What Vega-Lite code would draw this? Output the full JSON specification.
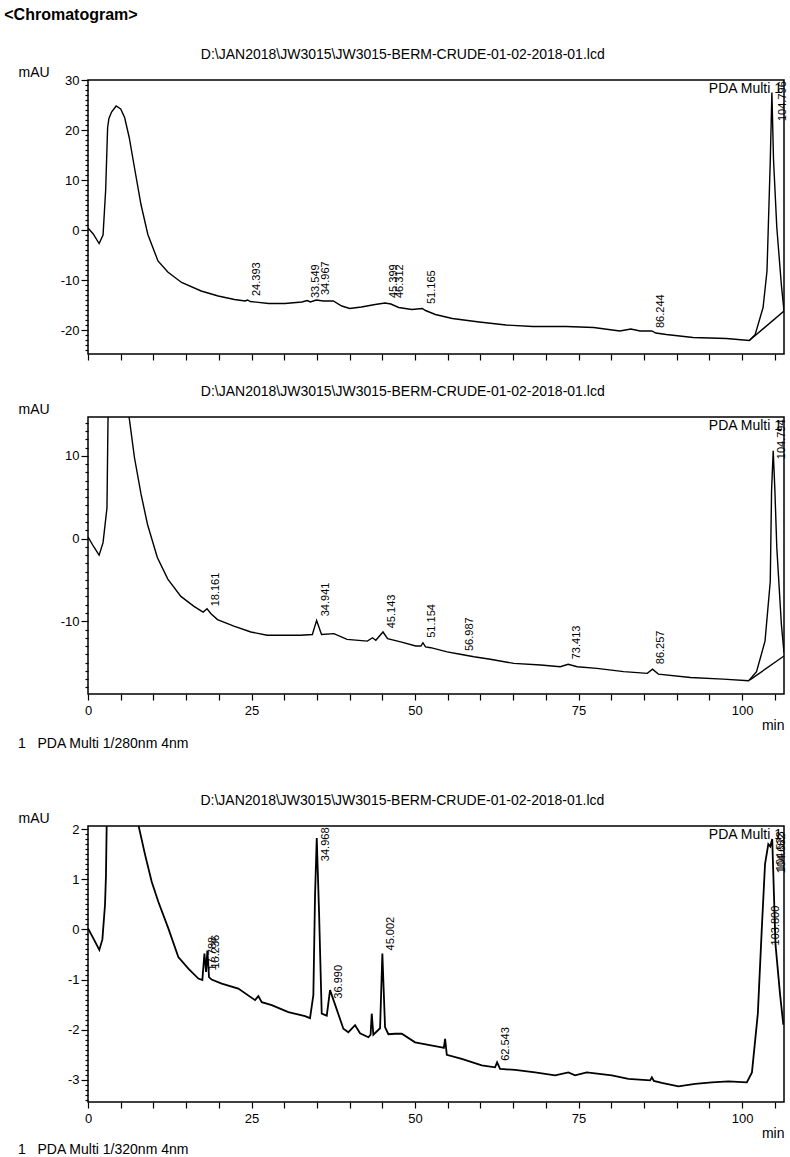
{
  "$schema": "https://vega.github.io/schema/vega-lite/v6.json",
  "padding": {"left": 4, "top": 7, "right": 5, "bottom": 0},
  "background": "white",
  "title": {"text": "<Chromatogram>", "anchor": "start", "dx": -13, "fontSize": 16, "fontWeight": "bold", "baseline": "alphabetic", "offset": 11, "color": "black", "font": "Liberation Sans"},
  "config": {
    "font": "Liberation Sans",
    "view": {"stroke": "black", "strokeWidth": 1.5},
    "axis": {"labelColor": "black", "tickColor": "black", "titleColor": "black", "labelFont": "Liberation Sans", "titleFont": "Liberation Sans", "grid": false, "domain": false, "labelFontSize": 13, "titleFontSize": 14, "titleFontWeight": "normal", "tickWidth": 1.2, "labelOverlap": false, "labelFlush": false, "tickCount": 1000},
    "title": {"color": "black", "font": "Liberation Sans", "fontWeight": "normal", "fontSize": 14, "baseline": "alphabetic", "offset": 3, "anchor": "middle", "frame": "bounds"},
    "text": {"color": "black", "font": "Liberation Sans"}
  },
  "datasets": {
    "p1": [
      {"s":"trace","t":0,"v":0.4},{"s":"trace","t":0.8,"v":-0.8},{"s":"trace","t":1.7,"v":-2.7},{"s":"trace","t":2.3,"v":-1.0},{"s":"trace","t":2.7,"v":8},{"s":"trace","t":3.0,"v":20.5},{"s":"trace","t":3.2,"v":22.3},{"s":"trace","t":3.6,"v":23.6},{"s":"trace","t":4.3,"v":24.8},{"s":"trace","t":5.0,"v":24.2},{"s":"trace","t":5.6,"v":22.5},{"s":"trace","t":6.3,"v":18.5},{"s":"trace","t":7.1,"v":12.5},{"s":"trace","t":8.1,"v":5.1},{"s":"trace","t":9.15,"v":-0.9},{"s":"trace","t":10.7,"v":-6.2},{"s":"trace","t":12.2,"v":-8.4},{"s":"trace","t":14.3,"v":-10.5},{"s":"trace","t":17.3,"v":-12.2},{"s":"trace","t":19.9,"v":-13.2},{"s":"trace","t":22.4,"v":-13.9},{"s":"trace","t":24.0,"v":-14.2},{"s":"trace","t":24.4,"v":-14.0},{"s":"trace","t":24.8,"v":-14.3},{"s":"trace","t":27.6,"v":-14.7},{"s":"trace","t":30.1,"v":-14.7},{"s":"trace","t":32.7,"v":-14.4},{"s":"trace","t":33.5,"v":-14.1},{"s":"trace","t":34.0,"v":-14.4},{"s":"trace","t":34.9,"v":-14.0},{"s":"trace","t":36.0,"v":-14.2},{"s":"trace","t":37.5,"v":-14.2},{"s":"trace","t":38.8,"v":-15.2},{"s":"trace","t":40.0,"v":-15.7},{"s":"trace","t":41.8,"v":-15.4},{"s":"trace","t":43.9,"v":-14.9},{"s":"trace","t":45.4,"v":-14.6},{"s":"trace","t":46.3,"v":-14.8},{"s":"trace","t":47.5,"v":-15.5},{"s":"trace","t":49.5,"v":-15.9},{"s":"trace","t":51.1,"v":-15.7},{"s":"trace","t":51.6,"v":-16.1},{"s":"trace","t":53.1,"v":-16.9},{"s":"trace","t":55.7,"v":-17.7},{"s":"trace","t":59.8,"v":-18.4},{"s":"trace","t":63.9,"v":-19.0},{"s":"trace","t":68.0,"v":-19.3},{"s":"trace","t":73.1,"v":-19.3},{"s":"trace","t":77.3,"v":-19.5},{"s":"trace","t":81.3,"v":-20.2},{"s":"trace","t":83.0,"v":-19.8},{"s":"trace","t":84.4,"v":-20.2},{"s":"trace","t":86.2,"v":-20.2},{"s":"trace","t":86.8,"v":-20.6},{"s":"trace","t":88.4,"v":-20.9},{"s":"trace","t":92.5,"v":-21.5},{"s":"trace","t":97.6,"v":-21.7},{"s":"trace","t":101.1,"v":-22.1},{"s":"trace","t":102.0,"v":-20.9},{"s":"trace","t":103.2,"v":-15.5},{"s":"trace","t":103.8,"v":-8.2},{"s":"trace","t":104.3,"v":13.8},{"s":"trace","t":104.55,"v":27.5},{"s":"trace","t":104.8,"v":14},{"s":"trace","t":105.3,"v":0.5},{"s":"trace","t":106.0,"v":-11},{"s":"trace","t":106.4,"v":-16.2},
      {"s":"base","t":101.1,"v":-22.1},{"s":"base","t":106.4,"v":-16.2}
    ],
    "l1": [
      {"t":24.393,"ly":-13.2,"label":"24.393"},{"t":33.549,"ly":-13.6,"label":"33.549"},{"t":34.967,"ly":-13.0,"label":"34.967"},{"t":45.399,"ly":-13.6,"label":"45.399"},{"t":46.312,"ly":-13.6,"label":"46.312"},{"t":51.165,"ly":-14.8,"label":"51.165"},{"t":86.244,"ly":-19.6,"label":"86.244"},{"t":104.796,"ly":21.8,"label":"104.796"}
    ],
    "p2": [
      {"s":"trace","t":0,"v":0.2},{"s":"trace","t":0.8,"v":-0.9},{"s":"trace","t":1.7,"v":-2.0},{"s":"trace","t":2.3,"v":-0.5},{"s":"trace","t":2.9,"v":3.7},{"s":"trace","t":3.05,"v":14},{"s":"trace","t":3.3,"v":22},{"s":"trace","t":4.3,"v":28},{"s":"trace","t":5.3,"v":24},{"s":"trace","t":6.3,"v":14.6},{"s":"trace","t":7.1,"v":9.8},{"s":"trace","t":8.1,"v":5.4},{"s":"trace","t":9.1,"v":1.7},{"s":"trace","t":10.6,"v":-2.3},{"s":"trace","t":12.2,"v":-4.9},{"s":"trace","t":14.2,"v":-7.0},{"s":"trace","t":16.2,"v":-8.2},{"s":"trace","t":17.6,"v":-8.9},{"s":"trace","t":18.2,"v":-8.5},{"s":"trace","t":18.8,"v":-9.1},{"s":"trace","t":19.8,"v":-9.8},{"s":"trace","t":22.3,"v":-10.6},{"s":"trace","t":24.9,"v":-11.3},{"s":"trace","t":27.4,"v":-11.7},{"s":"trace","t":30.0,"v":-11.7},{"s":"trace","t":32.5,"v":-11.7},{"s":"trace","t":34.3,"v":-11.6},{"s":"trace","t":34.95,"v":-9.9},{"s":"trace","t":35.7,"v":-11.6},{"s":"trace","t":37.6,"v":-11.5},{"s":"trace","t":39.6,"v":-12.2},{"s":"trace","t":42.7,"v":-12.4},{"s":"trace","t":43.5,"v":-12.0},{"s":"trace","t":44.0,"v":-12.3},{"s":"trace","t":45.1,"v":-11.3},{"s":"trace","t":45.8,"v":-12.1},{"s":"trace","t":47.8,"v":-12.5},{"s":"trace","t":50.1,"v":-13.0},{"s":"trace","t":50.9,"v":-13.0},{"s":"trace","t":51.2,"v":-12.6},{"s":"trace","t":51.6,"v":-13.1},{"s":"trace","t":52.4,"v":-13.2},{"s":"trace","t":54.9,"v":-13.7},{"s":"trace","t":56.9,"v":-14.0},{"s":"trace","t":59.0,"v":-14.3},{"s":"trace","t":61.5,"v":-14.6},{"s":"trace","t":65.1,"v":-15.1},{"s":"trace","t":69.2,"v":-15.3},{"s":"trace","t":72.2,"v":-15.5},{"s":"trace","t":73.4,"v":-15.2},{"s":"trace","t":74.8,"v":-15.5},{"s":"trace","t":77.8,"v":-15.7},{"s":"trace","t":81.9,"v":-16.1},{"s":"trace","t":85.5,"v":-16.3},{"s":"trace","t":86.3,"v":-15.8},{"s":"trace","t":87.2,"v":-16.4},{"s":"trace","t":92.1,"v":-16.8},{"s":"trace","t":97.1,"v":-17.0},{"s":"trace","t":101.0,"v":-17.2},{"s":"trace","t":102.2,"v":-16.1},{"s":"trace","t":103.5,"v":-12.4},{"s":"trace","t":104.3,"v":-5.2},{"s":"trace","t":104.5,"v":5.8},{"s":"trace","t":104.75,"v":10.6},{"s":"trace","t":105.0,"v":6},{"s":"trace","t":105.3,"v":-1.1},{"s":"trace","t":106.0,"v":-10.4},{"s":"trace","t":106.4,"v":-13.8},
      {"s":"base","t":101.2,"v":-17.1},{"s":"base","t":106.4,"v":-14.2}
    ],
    "l2": [
      {"t":18.161,"ly":-8.2,"label":"18.161"},{"t":34.941,"ly":-9.4,"label":"34.941"},{"t":45.143,"ly":-10.85,"label":"45.143"},{"t":51.154,"ly":-12.0,"label":"51.154"},{"t":56.987,"ly":-13.6,"label":"56.987"},{"t":73.413,"ly":-14.6,"label":"73.413"},{"t":86.257,"ly":-15.2,"label":"86.257"},{"t":104.794,"ly":9.6,"label":"104.794"}
    ],
    "p3": [
      {"t":0,"v":0.02},{"t":0.9,"v":-0.2},{"t":1.73,"v":-0.41},{"t":2.2,"v":-0.2},{"t":2.6,"v":0.49},{"t":2.75,"v":1.09},{"t":2.9,"v":2.5},{"t":3.5,"v":6},{"t":4.5,"v":9},{"t":6.0,"v":6},{"t":7.0,"v":3.2},{"t":7.69,"v":2.09},{"t":8.72,"v":1.49},{"t":9.74,"v":0.95},{"t":10.75,"v":0.55},{"t":12.28,"v":0.02},{"t":13.81,"v":-0.55},{"t":15.34,"v":-0.78},{"t":16.87,"v":-0.98},{"t":17.48,"v":-1.01},{"t":17.8,"v":-0.48},{"t":18.05,"v":-0.85},{"t":18.25,"v":-0.42},{"t":18.5,"v":-0.95},{"t":18.9,"v":-1.0},{"t":20.44,"v":-1.08},{"t":22.98,"v":-1.18},{"t":25.54,"v":-1.41},{"t":26.04,"v":-1.33},{"t":26.56,"v":-1.45},{"t":28.09,"v":-1.51},{"t":30.63,"v":-1.65},{"t":33.18,"v":-1.73},{"t":33.94,"v":-1.77},{"t":34.45,"v":-1.31},{"t":34.71,"v":0.69},{"t":34.97,"v":1.82},{"t":35.32,"v":0.35},{"t":35.73,"v":-1.68},{"t":36.5,"v":-1.72},{"t":37.0,"v":-1.21},{"t":37.8,"v":-1.51},{"t":39.04,"v":-1.98},{"t":39.8,"v":-2.05},{"t":40.83,"v":-1.91},{"t":41.59,"v":-2.07},{"t":42.86,"v":-2.15},{"t":43.2,"v":-2.1},{"t":43.38,"v":-1.68},{"t":43.62,"v":-2.1},{"t":44.65,"v":-1.97},{"t":45.0,"v":-0.48},{"t":45.41,"v":-1.95},{"t":45.92,"v":-2.09},{"t":46.94,"v":-2.08},{"t":47.97,"v":-2.08},{"t":50.0,"v":-2.25},{"t":52.03,"v":-2.3},{"t":54.08,"v":-2.35},{"t":54.4,"v":-2.36},{"t":54.59,"v":-2.18},{"t":54.85,"v":-2.5},{"t":57.14,"v":-2.58},{"t":60.2,"v":-2.71},{"t":62.23,"v":-2.75},{"t":62.54,"v":-2.65},{"t":63.0,"v":-2.78},{"t":65.29,"v":-2.8},{"t":68.35,"v":-2.85},{"t":71.41,"v":-2.91},{"t":73.44,"v":-2.85},{"t":74.46,"v":-2.91},{"t":76.25,"v":-2.85},{"t":80.08,"v":-2.91},{"t":82.61,"v":-2.98},{"t":85.93,"v":-3.01},{"t":86.2,"v":-2.95},{"t":86.5,"v":-3.02},{"t":87.72,"v":-3.06},{"t":90.26,"v":-3.13},{"t":92.81,"v":-3.08},{"t":95.37,"v":-3.05},{"t":97.9,"v":-3.03},{"t":100.72,"v":-3.05},{"t":101.5,"v":-2.85},{"t":102.4,"v":-1.68},{"t":103.0,"v":0.0},{"t":103.5,"v":1.3},{"t":104.0,"v":1.7},{"t":104.3,"v":1.65},{"t":104.6,"v":1.8},{"t":105.1,"v":-0.3},{"t":105.8,"v":-1.3},{"t":106.3,"v":-1.9}
    ],
    "l3": [
      {"t":17.788,"ly":-0.82,"label":"17.788"},{"t":18.236,"ly":-0.78,"label":"18.236"},{"t":34.968,"ly":1.36,"label":"34.968"},{"t":36.99,"ly":-1.38,"label":"36.990"},{"t":45.002,"ly":-0.42,"label":"45.002"},{"t":62.543,"ly":-2.62,"label":"62.543"},{"t":103.8,"ly":-0.32,"label":"103.800"},{"t":104.523,"ly":1.16,"label":"104.523"},{"t":104.682,"ly":1.12,"label":"104.682"}
    ]
  },
  "spacing": 41,
  "vconcat": [
    {
      "spacing": 22,
      "vconcat": [
        {
          "width": 696, "height": 274,
          "title": {"text": "D:\\JAN2018\\JW3015\\JW3015-BERM-CRUDE-01-02-2018-01.lcd"},
          "layer": [
            {
              "data": {"name": "p1"},
              "mark": {"type": "line", "color": "black", "strokeWidth": 1.4, "clip": true},
              "encoding": {
                "x": {"field": "t", "type": "quantitative", "scale": {"domain": [0, 106.4], "nice": false},
                  "axis": {"values": [0,5,10,15,20,25,30,35,40,45,50,55,60,65,70,75,80,85,90,95,100,105], "labels": false, "tickSize": 6, "tickCount": 1000, "title": null}},
                "y": {"field": "v", "type": "quantitative", "scale": {"domain": [-24.8, 30], "nice": false, "zero": false},
                  "axis": {"values": [-24,-23,-22,-21,-20,-19,-18,-17,-16,-15,-14,-13,-12,-11,-10,-9,-8,-7,-6,-5,-4,-3,-2,-1,0,1,2,3,4,5,6,7,8,9,10,11,12,13,14,15,16,17,18,19,20,21,22,23,24,25,26,27,28,29,30],
                    "tickCount": 1000, "labelOverlap": false,
                    "labelExpr": "datum.value % 10 === 0 ? '' + datum.value : ''",
                    "tickSize": {"condition": {"test": "datum.value % 10 === 0", "value": 7}, "value": 3},
                    "labelPadding": 2,
                    "title": "mAU", "titleAngle": 0, "titleAlign": "left", "titleBaseline": "alphabetic", "titleX": -70, "titleY": -4}},
                "detail": {"field": "s"}
              }
            },
            {
              "data": {"name": "l1"},
              "mark": {"type": "text", "angle": 270, "align": "left", "baseline": "top", "dy": 3, "fontSize": 11},
              "encoding": {
                "x": {"field": "t", "type": "quantitative"},
                "y": {"field": "ly", "type": "quantitative"},
                "text": {"field": "label"}
              }
            },
            {
              "data": {"values": [{}]},
              "mark": {"type": "text", "align": "right", "baseline": "top", "dx": -2, "dy": 2, "fontSize": 14},
              "encoding": {"x": {"datum": 106.4}, "y": {"datum": 30}, "text": {"value": "PDA Multi 1"}}
            }
          ]
        },
        {
          "width": 696, "height": 277,
          "title": {"text": "D:\\JAN2018\\JW3015\\JW3015-BERM-CRUDE-01-02-2018-01.lcd"},
          "layer": [
            {
              "data": {"name": "p2"},
              "mark": {"type": "line", "color": "black", "strokeWidth": 1.4, "clip": true},
              "encoding": {
                "x": {"field": "t", "type": "quantitative", "scale": {"domain": [0, 106.4], "nice": false},
                  "axis": {"values": [0,5,10,15,20,25,30,35,40,45,50,55,60,65,70,75,80,85,90,95,100,105],
                    "tickCount": 1000, "labelOverlap": false,
                    "labelExpr": "datum.value % 25 === 0 ? '' + datum.value : ''", "labelPadding": 4, "tickSize": 6,
                    "title": "min", "titleX": 696, "titleY": 35, "titleAlign": "right", "titleBaseline": "alphabetic"}},
                "y": {"field": "v", "type": "quantitative", "scale": {"domain": [-18.8, 14.7], "nice": false, "zero": false},
                  "axis": {"values": [-18,-17,-16,-15,-14,-13,-12,-11,-10,-9,-8,-7,-6,-5,-4,-3,-2,-1,0,1,2,3,4,5,6,7,8,9,10,11,12,13,14],
                    "tickCount": 1000, "labelOverlap": false,
                    "labelExpr": "datum.value % 10 === 0 ? '' + datum.value : ''",
                    "tickSize": {"condition": {"test": "datum.value % 10 === 0", "value": 7}, "value": 3},
                    "labelPadding": 2,
                    "title": "mAU", "titleAngle": 0, "titleAlign": "left", "titleBaseline": "alphabetic", "titleX": -70, "titleY": -4}},
                "detail": {"field": "s"}
              }
            },
            {
              "data": {"name": "l2"},
              "mark": {"type": "text", "angle": 270, "align": "left", "baseline": "top", "dy": 3, "fontSize": 11},
              "encoding": {
                "x": {"field": "t", "type": "quantitative"},
                "y": {"field": "ly", "type": "quantitative"},
                "text": {"field": "label"}
              }
            },
            {
              "data": {"values": [{}]},
              "mark": {"type": "text", "align": "right", "baseline": "top", "dx": -2, "dy": 2, "fontSize": 14},
              "encoding": {"x": {"datum": 106.4}, "y": {"datum": 14.7}, "text": {"value": "PDA Multi 1"}}
            },
            {
              "data": {"values": [{}]},
              "mark": {"type": "text", "align": "left", "baseline": "alphabetic", "dx": -70, "dy": 54, "fontSize": 14},
              "encoding": {"x": {"datum": 0}, "y": {"datum": -18.8}, "text": {"value": "1\u00a0\u00a0\u00a0PDA Multi 1/280nm 4nm"}}
            }
          ]
        }
      ]
    },
    {
      "width": 696, "height": 276,
      "title": {"text": "D:\\JAN2018\\JW3015\\JW3015-BERM-CRUDE-01-02-2018-01.lcd"},
      "layer": [
        {
          "data": {"name": "p3"},
          "mark": {"type": "line", "color": "black", "strokeWidth": 1.8, "clip": true},
          "encoding": {
            "x": {"field": "t", "type": "quantitative", "scale": {"domain": [0, 106.4], "nice": false},
              "axis": {"values": [0,5,10,15,20,25,30,35,40,45,50,55,60,65,70,75,80,85,90,95,100,105],
                "tickCount": 1000, "labelOverlap": false,
                "labelExpr": "datum.value % 25 === 0 ? '' + datum.value : ''", "labelPadding": 4, "tickSize": 6,
                "title": "min", "titleX": 696, "titleY": 35, "titleAlign": "right", "titleBaseline": "alphabetic"}},
            "y": {"field": "v", "type": "quantitative", "scale": {"domain": [-3.44, 2.06], "nice": false, "zero": false},
              "axis": {"values": [-3.4,-3.3,-3.2,-3.1,-3,-2.9,-2.8,-2.7,-2.6,-2.5,-2.4,-2.3,-2.2,-2.1,-2,-1.9,-1.8,-1.7,-1.6,-1.5,-1.4,-1.3,-1.2,-1.1,-1,-0.9,-0.8,-0.7,-0.6,-0.5,-0.4,-0.3,-0.2,-0.1,0,0.1,0.2,0.3,0.4,0.5,0.6,0.7,0.8,0.9,1,1.1,1.2,1.3,1.4,1.5,1.6,1.7,1.8,1.9,2],
                "tickCount": 1000, "labelOverlap": false,
                "labelExpr": "abs(datum.value - round(datum.value)) < 0.001 ? '' + round(datum.value) : ''",
                "tickSize": {"condition": {"test": "abs(datum.value - round(datum.value)) < 0.001", "value": 7}, "value": 3},
                "labelPadding": 2,
                "title": "mAU", "titleAngle": 0, "titleAlign": "left", "titleBaseline": "alphabetic", "titleX": -70, "titleY": -4}}
          }
        },
        {
          "data": {"name": "l3"},
          "mark": {"type": "text", "angle": 270, "align": "left", "baseline": "top", "dy": 3, "fontSize": 11},
          "encoding": {
            "x": {"field": "t", "type": "quantitative"},
            "y": {"field": "ly", "type": "quantitative"},
            "text": {"field": "label"}
          }
        },
        {
          "data": {"values": [{}]},
          "mark": {"type": "text", "align": "right", "baseline": "top", "dx": -2, "dy": 2, "fontSize": 14},
          "encoding": {"x": {"datum": 106.4}, "y": {"datum": 2.06}, "text": {"value": "PDA Multi 1"}}
        },
        {
          "data": {"values": [{}]},
          "mark": {"type": "text", "align": "left", "baseline": "alphabetic", "dx": -70, "dy": 52, "fontSize": 14},
          "encoding": {"x": {"datum": 0}, "y": {"datum": -3.44}, "text": {"value": "1\u00a0\u00a0\u00a0PDA Multi 1/320nm 4nm"}}
        }
      ]
    }
  ]
}
